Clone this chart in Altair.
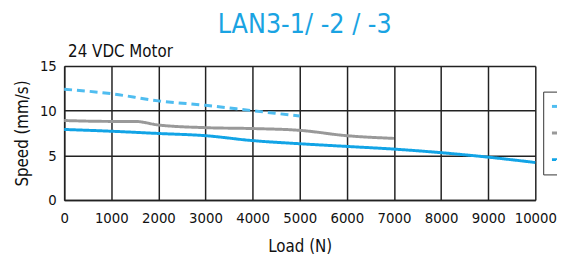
import altair as alt
import pandas as pd

# LAN3-1 (dashed light blue)
load_1 = [0, 1000, 2000, 3000, 4000, 5000]
speed_1 = [12.4, 11.9, 11.1, 10.6, 10.0, 9.4]
# LAN3-2 (gray)
load_2 = [0, 1000, 1500, 2000, 3000, 4000, 5000, 6000, 7000]
speed_2 = [8.9, 8.8, 8.8, 8.4, 8.1, 8.0, 7.8, 7.2, 6.9]
# LAN3-3 (solid blue)
load_3 = [0, 1000, 2000, 3000, 4000, 5000, 6000, 7000, 8000, 9000, 10000]
speed_3 = [7.9, 7.7, 7.45, 7.2, 6.65, 6.3, 6.0, 5.7, 5.3, 4.8, 4.2]

series_names = ["LAN3-1", "LAN3-2", "LAN3-3"]
series_colors = ["#4fbdf0", "#999999", "#12a4e6"]
series_dash = [[8, 5], [1, 0], [1, 0]]
x_ticks = list(range(0, 10001, 1000))
y_ticks = [0, 5, 10, 15]

FONT = "DejaVu Sans Condensed, Liberation Sans Narrow, Roboto, sans-serif"

rows = []
for name, xs, ys in zip(series_names, [load_1, load_2, load_3], [speed_1, speed_2, speed_3]):
    for x, y in zip(xs, ys):
        rows.append({"series": name, "load": x, "speed": y})
df = pd.DataFrame(rows)

lines = alt.Chart(df).mark_line(strokeWidth=3, interpolate="monotone").encode(
    x=alt.X("load:Q", title="Load (N)",
            scale=alt.Scale(domain=[0, 10000], nice=False),
            axis=alt.Axis(values=x_ticks, format="d", ticks=False, labelPadding=11,
                          labelFlush=False, labelOverlap=False, titlePadding=13)),
    y=alt.Y("speed:Q", title="Speed (mm/s)",
            scale=alt.Scale(domain=[0, 15], nice=False),
            axis=alt.Axis(values=y_ticks, ticks=False, labelPadding=8, titlePadding=8)),
    color=alt.Color("series:N", scale=alt.Scale(domain=series_names, range=series_colors),
                    legend=alt.Legend(title=None, orient="none", legendX=486, legendY=26,
                                      strokeColor="#333333", padding=7, symbolType="stroke",
                                      symbolStrokeWidth=3, symbolSize=150, rowPadding=11,
                                      labelFontSize=15, labelFont=FONT, fillColor="white")),
    strokeDash=alt.StrokeDash("series:N", scale=alt.Scale(domain=series_names, range=series_dash),
                              legend=None),
)

sub = alt.Chart(pd.DataFrame({"t": ["24 VDC Motor"]})).mark_text(
    align="left", baseline="alphabetic", dy=-9, dx=4, fontSize=17, font=FONT, color="#111111"
).encode(x=alt.value(0), y=alt.value(0), text="t:N")

chart = alt.layer(lines, sub).properties(
    width=478, height=136,
    autosize=alt.AutoSizeParams(type="none"),
    padding={"left": 57, "top": 57, "right": 22, "bottom": 60},
    title=alt.TitleParams("LAN3-1/ -2 / -3", fontSize=27, font=FONT, fontWeight="normal",
                          color="#1aa3e2", anchor="middle", dx=5, offset=4),
).configure_view(stroke=None).configure_axis(
    grid=True, gridColor="#222222", gridWidth=1.5, gridOpacity=1,
    domainColor="#222222", domainWidth=1.5,
    labelFont=FONT, labelFontSize=15, labelColor="#111111",
    titleFont=FONT, titleFontSize=17, titleFontWeight="normal", titleColor="#111111",
)

chart.save("out.html", embed_options={"renderer": "svg", "actions": False})
